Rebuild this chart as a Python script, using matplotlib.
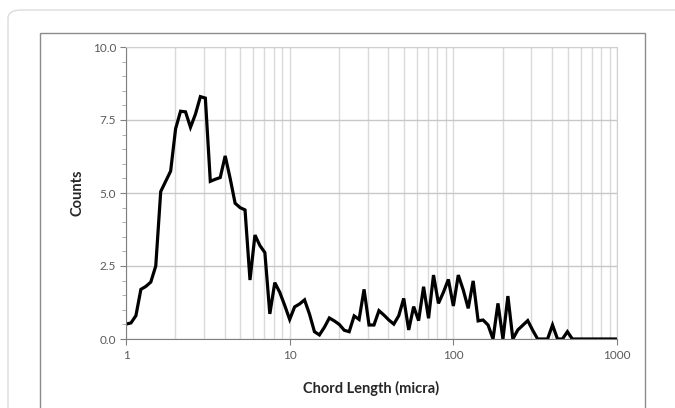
import numpy as np
import matplotlib
matplotlib.use("Agg")
import matplotlib.pyplot as plt
from matplotlib.patches import Rectangle, FancyBboxPatch
from matplotlib.ticker import LogLocator, MultipleLocator, FixedLocator, FixedFormatter

# 100 log-spaced chord length channels from 1 to 1000 micra
chord_length = 10 ** (3 * np.arange(100) / 99)
counts = [
    0.51, 0.55, 0.80, 1.70, 1.80, 1.95, 2.50, 5.05, 5.40, 5.75,
    7.20, 7.80, 7.78, 7.25, 7.70, 8.30, 8.25, 5.40, 5.47, 5.53,
    6.27, 5.50, 4.65, 4.50, 4.42, 2.02, 3.56, 3.20, 2.96, 0.86,
    1.93, 1.60, 1.15, 0.67, 1.10, 1.20, 1.34, 0.85, 0.25, 0.14,
    0.40, 0.72, 0.62, 0.50, 0.30, 0.25, 0.79, 0.67, 1.70, 0.48,
    0.48, 0.97, 0.82, 0.65, 0.51, 0.80, 1.39, 0.31, 1.11, 0.63,
    1.79, 0.71, 2.19, 1.22, 1.60, 2.04, 1.13, 2.19, 1.68, 1.05,
    1.99, 0.62, 0.65, 0.48, 0.00, 1.22, 0.00, 1.47, 0.00, 0.31,
    0.47, 0.63, 0.30, 0.00, 0.00, 0.00, 0.48, 0.00, 0.00, 0.25,
    0.00, 0.00, 0.00, 0.00, 0.00, 0.00, 0.00, 0.00, 0.00, 0.00,
]
y_ticks = [0.0, 2.5, 5.0, 7.5, 10.0]
x_ticks = [1, 10, 100, 1000]

plt.rcParams['font.family'] = ['Lato', 'DejaVu Sans']

fig = plt.figure(figsize=(6.75, 4.08), dpi=100)

# card and chart-area frames
fig.patches.append(FancyBboxPatch((8 / 675, -0.2), 1.2, (408 - 10) / 408 + 0.2,
                                  boxstyle="round,pad=0,rounding_size=0.02",
                                  transform=fig.transFigure, fill=False,
                                  edgecolor="#dcdcdc", linewidth=1.0))
fig.patches.append(Rectangle((40 / 675, -0.1), (645 - 40) / 675, (408 - 33) / 408 + 0.1,
                             transform=fig.transFigure, fill=False,
                             edgecolor="#8c8c8c", linewidth=1.0))

ax = fig.add_axes([126 / 675, 1 - 339 / 408, (617 - 126) / 675, (339 - 47) / 408])
ax.plot(chord_length, counts, color="black", linewidth=2.3, solid_joinstyle="miter")

ax.set_xscale("log")
ax.set_xlim(1, 1000)
ax.set_ylim(0, 10)

ax.xaxis.set_major_locator(FixedLocator(x_ticks))
ax.xaxis.set_major_formatter(FixedFormatter([str(v) for v in x_ticks]))
ax.xaxis.set_minor_locator(LogLocator(base=10, subs=np.arange(2, 10)))
ax.xaxis.set_minor_formatter(plt.NullFormatter())
ax.set_yticks(y_ticks)
ax.set_yticklabels([f"{v:.1f}" for v in y_ticks])
ax.yaxis.set_minor_locator(MultipleLocator(0.5))

ax.grid(True, which="major", axis="y", color="#c8c8c8", linewidth=1.0)
ax.grid(True, which="both", axis="x", color="#dadada", linewidth=1.0)
ax.set_axisbelow(True)

ax.tick_params(axis="y", which="major", length=4, color="#808080", labelsize=8.5,
               labelcolor="#595959", pad=3)
ax.tick_params(axis="y", which="minor", length=3, color="#a0a0a0")
ax.tick_params(axis="x", which="major", length=4, color="#808080", labelsize=8.5,
               labelcolor="#595959", pad=4)
ax.tick_params(axis="x", which="minor", length=0)

for side in ("top", "right"):
    ax.spines[side].set_color("#d0d0d0")
ax.spines["left"].set_color("#808080")
ax.spines["bottom"].set_color("#808080")

ax.set_xlabel("Chord Length (micra)", fontsize=10.5, fontweight="bold", color="#262626", labelpad=14)
ax.set_ylabel("Counts", fontsize=10.5, fontweight="bold", color="#262626", labelpad=6)

fig.savefig("out.png", dpi=100)
